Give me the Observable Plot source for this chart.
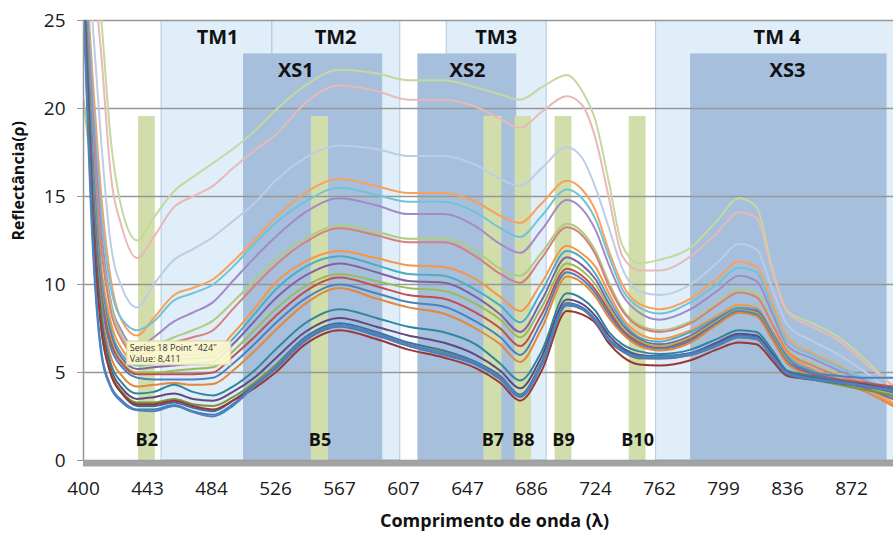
<!DOCTYPE html>
<html><head><meta charset="utf-8">
<script src="https://cdn.jsdelivr.net/npm/d3@7"></script>
<script src="https://cdn.jsdelivr.net/npm/@observablehq/plot@0.6"></script>
<style>body{margin:0;background:#fff} svg{display:block}</style>
</head><body><div id="chart"></div>
<script>
// Wavelength samples (nm)
const wavelengths = [400,406,412,418,426,436,447,460,472,485,498,512,526,545,567,590,610,632,652,667,679,692,707,716,724,732,740,750,762,780,795,808,818,827,836,850,865,880,895];

// Reflectance series (%)
const paleGreen = [34,30,25,18.5,14.2,12.5,13.8,15.3,16.1,16.9,17.7,18.7,19.9,21.3,22.2,22.0,21.6,21.6,21.2,20.8,20.5,21.2,21.9,21.0,19.3,15.8,12.2,11.2,11.4,12.1,13.6,14.9,14.4,11.0,8.5,7.8,7.0,5.7,4.2];
const palePink = [33,28.5,23,16.5,13.2,11.5,12.7,14.4,15.0,15.6,16.6,17.6,18.5,20.3,21.3,21.0,20.5,20.5,20.1,19.4,18.9,19.8,20.7,20.2,18.3,14.9,11.6,10.8,10.8,11.6,12.9,14.1,13.8,10.8,8.4,7.6,6.8,5.5,4.3];
const lavender = [31,25,18,12.5,9.8,8.7,10.0,11.4,12.0,12.7,13.6,14.6,15.9,17.2,17.9,17.7,17.3,17.3,16.8,16.0,15.6,16.6,17.8,17.2,15.5,13.2,10.9,9.6,9.4,10.0,11.2,12.3,12.0,9.8,7.7,6.8,6.0,5.0,3.8];
const orange1 = [30,22,15,10.5,7.9,7.1,8.1,9.4,9.8,10.3,11.3,12.5,13.8,15.2,16.0,15.6,15.2,15.2,14.7,13.9,13.5,14.6,15.9,15.4,14.2,11.9,10.0,8.9,8.6,9.2,10.3,11.3,11.0,9.0,7.0,6.1,5.4,4.5,3.3];
const aqua1 = [30,21,14,10,8.0,7.4,7.9,9.1,9.5,10.0,11.0,12.3,13.5,14.7,15.5,15.1,14.7,14.7,14.1,13.2,12.7,13.9,15.4,14.9,13.7,11.6,9.7,8.7,8.35,9.0,10.0,10.95,10.7,8.7,6.8,6.0,5.3,4.6,3.8];
const purple1 = [29,20,13,9.2,7.3,6.4,7.0,7.9,8.4,9.0,10.2,11.5,12.7,14.1,14.9,14.5,14.0,14.0,13.3,12.3,11.8,13.1,14.8,14.3,13.1,11.1,9.4,8.4,8.0,8.6,9.6,10.5,10.2,8.4,6.5,5.8,5.1,4.5,3.7];
const green1 = [20.5,16,12,9,7.0,6.2,6.5,7.0,7.4,7.95,9.0,10.2,11.4,12.6,13.35,13.0,12.6,12.6,11.9,10.9,10.5,11.8,13.45,13.0,11.9,10.1,8.6,7.7,7.4,7.9,8.9,9.7,9.5,7.9,6.3,5.5,4.9,4.4,3.6];
const red1 = [30,19,12,8.6,6.8,6.0,6.2,6.7,7.0,7.4,8.6,9.9,11.1,12.4,13.2,12.8,12.4,12.4,11.6,10.6,10.1,11.5,13.25,12.8,11.7,9.9,8.5,7.6,7.3,7.8,8.8,9.55,9.3,7.8,6.2,5.4,4.8,4.4,3.9];
const orange2 = [29,18,11,8.0,6.3,5.6,5.8,6.0,6.0,6.15,7.2,8.6,10.1,11.3,11.9,11.5,11.1,11.0,10.3,9.3,8.5,10.1,12.2,11.75,11.0,9.5,8.1,7.2,6.9,7.4,8.2,8.85,8.7,7.4,6.1,5.2,4.6,4.1,3.2];
const aqua2 = [29,18,10.5,7.6,6.0,5.4,5.5,5.7,5.8,5.9,6.9,8.3,9.7,11.0,11.6,11.1,10.6,10.5,9.7,8.8,7.85,9.6,11.9,11.5,10.6,9.2,7.9,7.0,6.75,7.3,8.1,8.7,8.6,7.3,5.95,5.1,4.6,4.2,3.6];
const purple2 = [28,17,10,7.3,5.8,5.2,5.3,5.4,5.5,5.6,6.6,7.9,9.2,10.5,11.2,10.7,10.2,10.1,9.3,8.3,7.3,9.1,11.55,11.1,10.3,8.9,7.7,6.9,6.6,7.1,8.0,8.6,8.5,7.2,5.8,5.0,4.5,4.1,3.5];
const green2 = [28,16.5,9.8,7.0,5.6,5.0,5.0,5.1,5.2,5.3,6.2,7.4,8.6,9.9,10.6,10.2,9.8,9.65,8.9,8.0,7.0,8.7,11.2,10.8,10.0,8.7,7.5,6.8,6.5,7.0,7.9,8.55,8.4,7.1,5.7,4.9,4.5,4.2,3.7];
const red2 = [28,16,9.5,6.8,5.5,4.9,4.9,4.9,4.9,5.0,5.9,7.0,8.2,9.6,10.4,9.9,9.4,9.2,8.4,7.5,6.5,8.3,10.9,10.5,9.7,8.5,7.4,6.7,6.4,6.9,7.8,8.45,8.3,7.0,5.6,4.9,4.6,4.4,4.2];
const blue2 = [28,16,9.2,6.5,5.3,4.7,4.6,4.6,4.6,4.7,5.5,6.6,7.8,9.2,10.0,9.5,9.0,8.75,7.9,7.0,6.0,7.9,10.7,10.3,9.5,8.3,7.3,6.6,6.35,6.8,7.8,8.5,8.3,7.0,5.6,5.0,4.8,4.7,4.7];
const orange3 = [27,15,8.6,6.0,4.8,4.2,4.3,4.4,4.3,4.35,5.1,6.2,7.4,8.9,9.8,9.2,8.7,8.35,7.5,6.6,5.6,7.5,10.45,10.1,9.3,8.1,7.2,6.5,6.25,6.7,7.7,8.4,8.2,6.9,5.5,4.8,4.4,3.9,3.1];
const teal3 = [27,15,8.2,5.6,4.4,3.8,3.9,4.3,3.9,3.7,4.2,5.1,6.3,7.8,8.6,8.1,7.6,7.3,6.6,5.5,4.55,6.2,9.5,9.2,8.5,7.3,6.6,6.2,6.05,6.3,6.9,7.4,7.3,6.3,5.1,4.8,4.5,4.3,4.0];
const purple3 = [27,14.5,7.8,5.3,4.1,3.5,3.6,3.8,3.5,3.4,3.9,4.7,5.8,7.3,8.1,7.6,7.1,6.7,6.0,5.1,4.1,5.9,9.15,8.9,8.2,7.1,6.4,6.0,5.9,6.1,6.7,7.2,7.1,6.1,5.0,4.7,4.4,4.2,3.9];
const blue3 = [27,14,7.4,5.0,3.8,3.1,3.1,3.3,3.0,2.8,3.4,4.3,5.4,7.0,7.8,7.3,6.7,6.25,5.6,4.8,3.75,5.6,8.95,8.7,8.0,6.9,6.3,5.95,5.95,6.1,6.6,7.1,7.0,6.0,5.0,4.7,4.5,4.3,4.1];
const green3 = [27,14,7.6,5.1,3.9,3.3,3.3,3.5,3.2,3.1,3.6,4.4,5.4,6.9,7.7,7.2,6.6,6.15,5.5,4.7,3.65,5.5,8.85,8.6,7.9,6.8,6.2,5.8,5.8,6.0,6.5,7.0,6.9,5.9,4.95,4.6,4.3,4.0,3.7];
const red3 = [27,14,7.5,5.0,3.8,3.2,3.2,3.4,3.1,2.9,3.4,4.1,5.0,6.6,7.4,6.9,6.3,5.85,5.25,4.4,3.4,5.1,8.5,8.3,7.8,6.65,5.9,5.45,5.4,5.7,6.3,6.7,6.6,5.7,4.8,4.6,4.4,4.3,4.0];
const blue4 = [26,13,6.2,4.3,3.4,2.9,2.9,3.15,2.8,2.6,3.2,4.2,5.2,6.8,7.6,7.1,6.5,6.0,5.45,4.6,3.6,5.4,8.8,8.6,7.9,6.8,6.2,5.85,5.8,6.0,6.5,7.0,6.9,5.9,4.9,4.6,4.4,4.2,3.9];
const blue5 = [26,12.5,6.0,4.2,3.3,2.85,2.8,3.1,2.75,2.5,3.1,4.2,5.3,6.9,7.7,7.2,6.6,6.1,5.55,4.7,3.7,5.5,8.9,8.65,7.95,6.85,6.25,5.9,5.9,6.05,6.55,7.05,6.95,5.95,4.95,4.65,4.45,4.25,4.0];

const seriesNames = ["paleGreen","palePink","lavender","orange1","aqua1","purple1","green1","red1","orange2","aqua2","purple2","green2","red2","blue2","orange3","teal3","purple3","blue3","green3","red3","blue4","blue5"];
const seriesValues = [paleGreen,palePink,lavender,orange1,aqua1,purple1,green1,red1,orange2,aqua2,purple2,green2,red2,blue2,orange3,teal3,purple3,blue3,green3,red3,blue4,blue5];

// Axis ticks
const tickLabels = [400,443,484,526,567,607,647,686,724,762,799,836,872];
const yTicks = [0,5,10,15,20,25];

// Bands
const tmNames = ["TM1","TM2","TM3","TM 4"];
const tmStart = [452,524,634,760];
const tmEnd = [524,605,695,900];
const xsNames = ["XS1","XS2","XS3"];
const xsStart = [505,616,780];
const xsEnd = [594,677,892];
const xsLabelAt = [539,647,836];
const xsTop = 23.1;
const bNames = ["B2","B5","B7","B8","B9","B10"];
const bStart = [437,549,657,676,700,744];
const bEnd = [448,560,668,686,710,754];
const bTop = 19.55;

// Tooltip
const tipLines = ["Series 18 Point \"424\"", "Value: 8,411"];
const tipX = 424, tipY = 8.411;

// ---- build
const palette = ["#c5d89d","#e8b9b7","#bccde6","#f8a15c","#72c3d8","#a28bc4","#b0cb7e","#d4817e",
  "#f79646","#4bacc6","#8064a2","#9bbb59","#c0504d","#4f81bd","#e3873a","#31859c","#5f4a7e",
  "#3d6fab","#77933c","#9b3633","#4a7dba","#4f81bd"];
const rows = [];
seriesValues.forEach((vals, k) => vals.forEach((v, i) => rows.push({s: seriesNames[k], w: wavelengths[i], v})));

const W = 893, H = 534, ML = 83, MR = 0, MT = 20, MB = 74;
const step = 64;
const xRange = tickLabels.map((_, i) => ML + i * step);

const tmIdx = d3.range(tmNames.length), xsIdx = d3.range(xsNames.length), bIdx = d3.range(bNames.length);
const font = "'Open Sans', sans-serif";

const chart = Plot.plot({
  width: W, height: H, marginLeft: ML, marginRight: MR, marginTop: MT, marginBottom: MB,
  style: {fontFamily: font, background: "white", color: "#1a1a1a"},
  x: {type: "linear", domain: tickLabels, range: xRange},
  y: {domain: [0, 25]},
  color: {domain: seriesNames, range: palette},
  marks: [
    Plot.rect(tmIdx, {x1: i => tmStart[i], x2: i => tmEnd[i], y1: 0, y2: 25, fill: "#dfeef8", stroke: "#b2c9e2", strokeWidth: 1, clip: true}),
    Plot.rect(xsIdx, {x1: i => xsStart[i], x2: i => xsEnd[i], y1: 0, y2: xsTop, fill: "#a5bfdd", clip: true}),
    Plot.rect(bIdx, {x1: i => bStart[i], x2: i => bEnd[i], y1: 0, y2: bTop, fill: "#d1deab"}),
    Plot.gridY(yTicks, {stroke: "#969696", strokeOpacity: 1, strokeWidth: 1.5}),
    Plot.line(rows, {x: "w", y: "v", z: "s", stroke: "s", strokeWidth: 2, curve: "monotone-x", clip: true}),
    Plot.ruleX([400], {stroke: "#969696", strokeWidth: 1.5}),
    Plot.ruleY([0], {stroke: "#a3a3a3", strokeWidth: 6, dy: 3}),
    Plot.axisY(yTicks, {tickSize: 6, tickPadding: 12, fontSize: 19, stroke: "#969696", fill: "#1a1a1a", label: null}),
    Plot.axisX(tickLabels, {tickSize: 0, tickPadding: 21, fontSize: 19, fill: "#1a1a1a", label: null, tickFormat: d => String(d)}),
    Plot.text(tmIdx, {x: i => (tmStart[i] + tmEnd[i]) / 2, y: 24.05, text: i => tmNames[i], fontSize: 20, fontWeight: "bold", fill: "#111"}),
    Plot.text(xsIdx, {x: i => xsLabelAt[i], y: 22.15, text: i => xsNames[i], fontSize: 20, fontWeight: "bold", fill: "#111"}),
    Plot.text(bIdx, {x: i => (bStart[i] + bEnd[i]) / 2, y: 1.15, text: i => bNames[i], fontSize: 18, fontWeight: "bold", fill: "#111"}),
    Plot.text([0], {frameAnchor: "left", dx: -65, rotate: -90, text: () => "Reflectância(ρ)", fontSize: 16, fontWeight: "bold", fill: "#111"}),
    Plot.text([0], {frameAnchor: "bottom", dx: 6, dy: 66, text: () => "Comprimento de onda (λ)", fontSize: 18, fontWeight: "bold", fill: "#111"})
  ]
});
document.getElementById("chart").appendChild(chart);

// tooltip annotation placed from the plot's own scales
const sx = chart.scale("x"), sy = chart.scale("y");
const px = sx.apply(tipX), py = sy.apply(tipY);
const g = d3.select(chart).append("g")
  .attr("transform", `translate(${px + 8},${py + 29})`)
  .attr("text-anchor", "start");
g.append("rect").attr("width", 104).attr("height", 24).attr("fill", "#fbf7cc").attr("fill-opacity", 0.92).attr("stroke", "#d8d0a2");
g.append("text").attr("x", 3).attr("font-size", 9).attr("font-family", font).attr("fill", "#333")
  .selectAll("tspan").data(tipLines).join("tspan")
  .attr("x", 3).attr("y", (d, i) => 10 + i * 11).text(d => d);
</script>
</body></html>
